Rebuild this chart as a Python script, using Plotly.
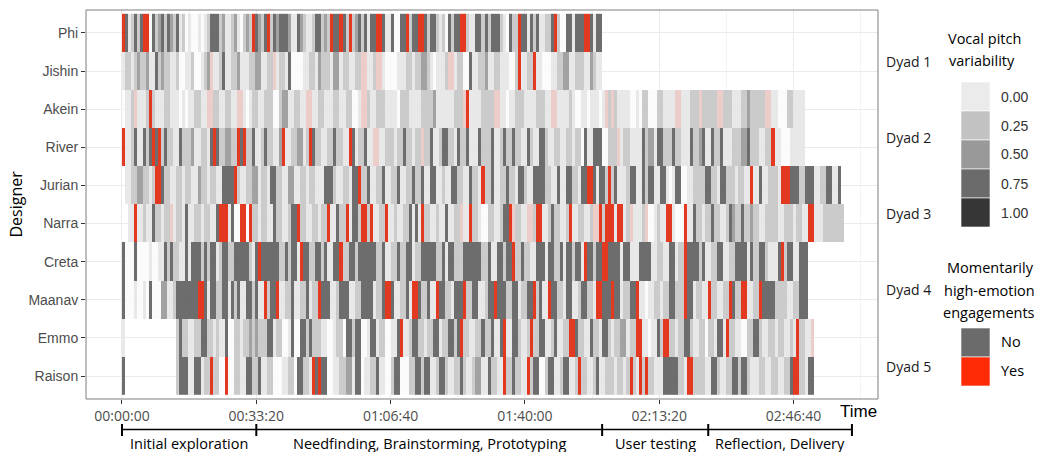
import plotly.graph_objects as go

# ---------------- data ----------------
BIN_S = 45  # seconds covered by one tile
designers = ["Phi", "Jishin", "Akein", "River", "Jurian", "Narra", "Creta", "Maanav", "Emmo", "Raison"]
dyads = ["Dyad 1", "Dyad 2", "Dyad 3", "Dyad 4", "Dyad 5"]
tick_vals = [0, 2000, 4000, 6000, 8000, 10000]
tick_text = ["00:00:00", "00:33:20", "01:06:40", "01:40:00", "02:13:20", "02:46:40"]
minor_vals = [-1000, 1000, 3000, 5000, 7000, 9000, 11000]
phase_names = ["Initial exploration", "Needfinding, Brainstorming, Prototyping", "User testing", "Reflection, Delivery"]
phase_bounds = [0, 2000, 7150, 8730, 10870]
pitch_levels = ["0.00", "0.25", "0.50", "0.75", "1.00"]
emotion_levels = ["No", "Yes"]

# tile codes: '.' no speech, '0'-'4' pitch variability level, 'p' faint / 'r' strong high-emotion
phi = ("r412424rr0" "4234243241" "2010010124" "4423112310" "232r4324r2" "4344431143" "211244232r" "44r42r2342" "41"
       "44rr411400" "44r244rr42" "4421204244" "rr21144242" "444210422r" "4414241122" "4r20044144" "4rr4144")
jishin = ("1221232231" "1423221120" "011200123p" "1124112231" "1122331122" "p122140000" "1122132221" "331221122p" "p1"
          "12pp100001" "1122122332" "101112pp12" "2004112231" "122111002r" "1122r11000" "1122331122" "2113211")
akein = ("0112p1112r" "2111221110" "10112211pp" "22112211pp" "1012211222" "0023311221" "1pp1122111" "221122001p" "p2"
         "1122211110" "2221111222" "2311111122" "2pr1111222" "2pp1101122" "2111122211" "pp11112100" "11011101p2"
         "p211110010" "2200022111" "1pp111222p" "22222pp222" "1112232222" "2pp1100022" "1111")
river = ("r112411424" "r4r2422114" "2223112214" "r4223322r4" "r224112422" "113r112233" "12r4221122" "42211r4122" "41"
         "1pp1122212" "2422122p22" "4112442214" "2241114222" "4112422422" "1142114421" "1221122122" "0411444002"
         "22p1221111" "4233144222" "4221114223" "4114224111" "2223342221" "122r110001" "1111")
jurian = (".112233221" "2rr4221122" "1221132212" "2114444r21" "1223312214" "4221133112" "2122111444" "21122144r2" "24"
          "1122411224" "1122422411" "4411211442" "2114221r22" "4112242214" "4211444422" "1141144221" "44rr41442r"
          "2411124411" "4244114410" "1440011222" "2442214422" "212211r114" "112221rrr4" "4422444112" "244114")
narra = ("..11r11211" "422122p122" "1411221221" "14rrr1400r" "r0r2212211" "42211244r2" "21122122r1" "1422r1442r" "r2"
         "r1122r1121" "1224141r22" "1121141122" "p11r221002" "211244rp22" "11pp2rr112" "422112r112" "2112ppr2rr"
         "r1rr12p111" "2p001211rr" "1000r11422" "1224221124" "3224223221" "1222211222" "12211rr111" "2222222")
creta = ("4000400001" "0011424221" "1414442424" "4124422444" "44214r4444" "442242441r" "4422442411" "44r2244244" "44"
         "4422411224" "2244122444" "4422414422" "2444444224" "1144244r22" "4221144414" "4224144244" "1r44244rr4"
         "4441441114" "4441122114" "4122r44442" "4112244112" "2444414224" "421114r244" "11444")
maanav = ("4000100104" "0003311244" "44444rr414" "4224414241" "1442411r24" "4r11224112" "24122r4441" "1244411224" "44"
          "41224rr411" "2241rr4224" "11r4422144" "4r22441124" "4r44422441" "2244r2411r" "4422144112" "44221rr444"
          "r4412244r1" "1011221224" "4222r44122" "11r221122r" "422rr1122r" "4444222211" "22444")
emmo = ("1........." "........24" "2211224422" "1211400221" "2232322244" "1220014004" "4242221100" "1220442440" "01"
        "4412200114" "r112442212" "2441224424" "r221122422" "4114r11442" "112r224411" "241122rr42" "2114221442"
        "12233122rr" "1101142rr2" "2122442112" "20221441r2" "2110022442" "1122122112" "1r2211p")
raison = ("4........." "........24" "441144122r" "2200r00221" "1442241122" "0001122044" "221r4r4400" "1122331440" "11"
          "2241100244" "0002244244" "1124421122" "4211233114" "2211r22422" "11r2440024" "411244112r" "2211241122"
          "212212r21r" "2r22111444" "44221rr222" "2114421122" "4424421112" "2112211224" "rr22144")
rows = [phi, jishin, akein, river, jurian, narra, creta, maanav, emmo, raison]

# ---------------- styles ----------------
code_of = {"0": 0, "1": 1, "2": 2, "3": 3, "4": 4, "p": 5, "r": 6}
tile_colors = ["#fbfbfb", "#e6e6e6", "#c6c6c6", "#989898", "#5e5e5e", "#ecc8c4", "#e02408"]
pitch_colors = ["#ebebeb", "#c2c2c2", "#999999", "#6b6b6b", "#363636"]
emotion_colors = ["#6b6b6b", "#ff2b06"]

ncol = max(len(r) for r in rows)
z = []
for r in rows:
    vals = [code_of.get(ch) for ch in r]
    vals += [None] * (ncol - len(vals))
    z.append(vals)

n = len(tile_colors)
cscale = []
for i, c in enumerate(tile_colors):
    cscale.append([i / n, c])
    cscale.append([(i + 1) / n, c])

fig = go.Figure()
fig.add_trace(go.Heatmap(
    z=z[::-1], y=designers[::-1], x0=BIN_S / 2, dx=BIN_S,
    colorscale=cscale, zmin=-0.5, zmax=n - 0.5, showscale=False,
    opacity=0.9, hoverinfo="skip", xgap=0, ygap=0,
))

# ---------------- geometry helpers (figure pixels -> paper) ----------------
W, H = 1044, 452
L, R, T, B = 86, 166, 10, 53
PW, PH = W - L - R, H - T - B


def px(x):
    return (x - L) / PW


def py(y):
    return (H - B - y) / PH


sans = "Liberation Sans, Arial, sans-serif"
osans = "Open Sans, sans-serif"

fig.update_layout(
    width=W, height=H, margin=dict(l=L, r=R, t=T, b=B),
    paper_bgcolor="white", plot_bgcolor="white", showlegend=False,
    xaxis=dict(
        range=[-536, 11258], tickvals=tick_vals, ticktext=tick_text,
        showgrid=True, gridcolor="#ebebeb", gridwidth=1, zeroline=False,
        ticks="outside", ticklen=4, tickcolor="#333333", tickwidth=1,
        tickfont=dict(family=osans, size=14, color="#4d4d4d"),
        minor=dict(tickvals=minor_vals, showgrid=True, gridcolor="#f3f3f3", gridwidth=1, ticks=""),
        showline=False,
    ),
    yaxis=dict(
        type="category", categoryorder="array", categoryarray=designers[::-1],
        range=[-0.6, len(designers) - 0.4], showgrid=True, gridcolor="#ebebeb", gridwidth=1,
        ticks="outside", ticklen=4, tickcolor="#333333", tickwidth=1,
        tickfont=dict(family=sans, size=14, color="#4d4d4d"), zeroline=False, showline=False,
    ),
)

shapes = []
annotations = []

# panel border
shapes.append(dict(type="rect", xref="paper", yref="paper", x0=0, x1=1, y0=0, y1=1,
                   line=dict(color="#7f7f7f", width=1), layer="above"))

# axis titles
annotations.append(dict(text="Designer", xref="paper", yref="paper", x=px(15), y=0.5,
                        textangle=-90, showarrow=False, font=dict(family=osans, size=16, color="black"),
                        xanchor="center", yanchor="middle"))
annotations.append(dict(text="Time", xref="paper", yref="paper", x=px(838), y=py(411),
                        showarrow=False, font=dict(family=sans, size=17, color="black"),
                        xanchor="left", yanchor="middle"))

# dyad labels
for k, d in enumerate(dyads):
    center = (len(designers) - 1) - 2 * k - 0.5
    annotations.append(dict(text=d, xref="paper", yref="y", x=px(884), y=center - 0.24,
                            showarrow=False, xanchor="left", yanchor="middle",
                            font=dict(family=osans, size=14, color="#1a1a1a")))

# phase bracket
yb, yt0, yt1 = py(429.5), py(424), py(436)
shapes.append(dict(type="line", xref="x", yref="paper", x0=phase_bounds[0], x1=phase_bounds[-1],
                   y0=yb, y1=yb, line=dict(color="black", width=1.5)))
for b in phase_bounds:
    shapes.append(dict(type="line", xref="x", yref="paper", x0=b, x1=b, y0=yt0, y1=yt1,
                       line=dict(color="black", width=2)))
for i, name in enumerate(phase_names):
    mid = (phase_bounds[i] + phase_bounds[i + 1]) / 2
    annotations.append(dict(text=name, xref="x", yref="paper", x=mid, y=py(443),
                            showarrow=False, xanchor="center", yanchor="middle",
                            font=dict(family=osans, size=14.5, color="black")))

# legend 1: vocal pitch variability
for txt, cx, cy in [("Vocal pitch", 984, 39), ("variability", 982, 61)]:
    annotations.append(dict(text=txt, xref="paper", yref="paper", x=px(cx), y=py(cy), showarrow=False,
                            xanchor="center", yanchor="middle", font=dict(family=osans, size=14.5, color="black")))
box_top = 82
for i, (lab, col) in enumerate(zip(pitch_levels, pitch_colors)):
    y0 = box_top + i * 29
    shapes.append(dict(type="rect", xref="paper", yref="paper", x0=px(961), x1=px(990),
                       y0=py(y0), y1=py(y0 + 29), fillcolor=col, line=dict(color="white", width=0.6)))
    annotations.append(dict(text=lab, xref="paper", yref="paper", x=px(999), y=py(y0 + 14.5),
                            showarrow=False, xanchor="left", yanchor="middle",
                            font=dict(family=sans, size=14, color="#333333")))

# legend 2: high-emotion engagements
for txt, cx, cy in [("Momentarily", 990, 267), ("high-emotion", 989, 290), ("engagements", 989, 312)]:
    annotations.append(dict(text=txt, xref="paper", yref="paper", x=px(cx), y=py(cy), showarrow=False,
                            xanchor="center", yanchor="middle", font=dict(family=osans, size=14.5, color="black")))
box_top2 = 328
for i, (lab, col) in enumerate(zip(emotion_levels, emotion_colors)):
    y0 = box_top2 + i * 29
    shapes.append(dict(type="rect", xref="paper", yref="paper", x0=px(961), x1=px(990),
                       y0=py(y0), y1=py(y0 + 29), fillcolor=col, line=dict(color="white", width=0.6)))
    annotations.append(dict(text=lab, xref="paper", yref="paper", x=px(999), y=py(y0 + 13),
                            showarrow=False, xanchor="left", yanchor="middle",
                            font=dict(family=osans, size=14.5, color="black")))

fig.update_layout(shapes=shapes, annotations=annotations)
fig.write_html("out.html", config={"displayModeBar": False},
               post_script="document.body.style.margin='0px';document.body.style.overflow='hidden';")
